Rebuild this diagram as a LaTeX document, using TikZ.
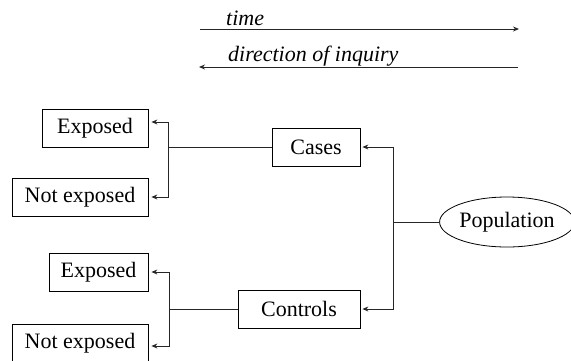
\documentclass[tikz,border=0pt]{standalone}
\usepackage{fontspec}
\setmainfont{Liberation Serif}
\usetikzlibrary{shapes.geometric,arrows.meta}
\begin{document}
\begin{tikzpicture}[x=1pt,y=-1pt,
  box/.style={draw, line width=0.8pt, inner sep=0pt, minimum height=38pt, font=\fontsize{22}{26}\selectfont},
  lbl/.style={anchor=base west, inner sep=0pt, font=\fontsize{22}{26}\selectfont\itshape},
  ln/.style={line width=0.9pt, draw=black!85},
  arr/.style={ln, -{Stealth[length=6pt,width=5pt]}}]
\useasboundingbox (0,0) rectangle (571,360);
% timeline
\node[lbl] (tl) at (226,25) {time};
\node[lbl] (dl) at (228,61) {direction of inquiry};
\coordinate (t1) at (200,29);
\coordinate (t2) at (519,29);
\coordinate (d1) at (518,67);
\coordinate (d2) at (199,67);
\draw[arr] (t1) -- (t2);
\draw[arr] (d1) -- (d2);
% boxes
\node[box, minimum width=106pt] (e1) at (95,128) {Exposed};
\node[box, minimum width=136pt] (n1) at (80,197) {Not exposed};
\node[box, minimum width=88pt] (cases) at (316,147) {Cases};
\node[box, minimum width=99pt] (e2) at (98.5,272) {Exposed};
\node[box, minimum width=136pt] (n2) at (80,343) {Not exposed};
\node[box, minimum width=122pt] (controls) at (299,309) {Controls};
\node[draw, ellipse, line width=0.8pt, inner sep=0pt, minimum width=128pt, minimum height=50pt, font=\fontsize{22}{26}\selectfont] (pop) at (507,222) {Population};
% population branch
\coordinate (j0) at (393,222);
\draw[ln] (pop.west) -- (j0);
\draw[arr, shorten >=2pt] (j0) |- (cases.east);
\draw[arr, shorten >=2pt] (j0) |- (controls.east);
% cases branch
\coordinate (j1) at (168,147);
\coordinate (j1a) at (168,122);
\coordinate (j1b) at (168,197);
\draw[ln] (cases.west) -- (j1);
\draw[arr, shorten >=3pt] (j1) -- (j1a) -- (j1a -| e1.east);
\draw[arr, shorten >=3pt] (j1) -- (j1b) -- (j1b -| n1.east);
% controls branch
\coordinate (j2) at (169,309);
\coordinate (j2a) at (169,272);
\coordinate (j2b) at (169,346);
\draw[ln] (controls.west) -- (j2);
\draw[arr, shorten >=3pt] (j2) -- (j2a) -- (j2a -| e2.east);
\draw[arr, shorten >=3pt] (j2) -- (j2b) -- (j2b -| n2.east);
\end{tikzpicture}
\end{document}
